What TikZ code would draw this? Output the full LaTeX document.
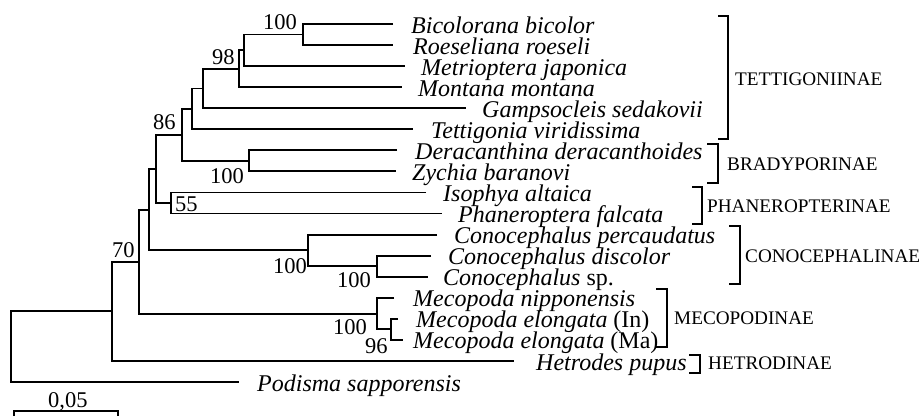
\documentclass[tikz,border=0pt]{standalone}
\usepackage{fontspec}
\setmainfont{Liberation Serif}
\begin{document}
\begin{tikzpicture}[x=1pt,y=-1pt,
  branch/.style={line width=1.9pt},
  brk/.style={line width=2pt},
  sp/.style={font=\fontsize{24}{28}\selectfont\itshape, anchor=base west, inner sep=0pt},
  boot/.style={font=\fontsize{22.5}{26}\selectfont, anchor=base west, inner sep=0pt},
  grp/.style={font=\fontsize{19.2}{22}\selectfont, anchor=base west, inner sep=0pt}]
\useasboundingbox (0,0) rectangle (922,416);
% leaf tips
\coordinate (L0) at (393,24);
\coordinate (L1) at (393,45.1);
\coordinate (L2) at (405,66.1);
\coordinate (L3) at (402,87.2);
\coordinate (L4) at (466,108.2);
\coordinate (L5) at (413,129.3);
\coordinate (L6) at (397,150.4);
\coordinate (L7) at (396,171.4);
\coordinate (L8) at (426,192.5);
\coordinate (L9) at (442,213.5);
\coordinate (L10) at (437,234.6);
\coordinate (L11) at (431,255.7);
\coordinate (L12) at (428,276.7);
\coordinate (L13) at (394,297.8);
\coordinate (L14) at (398,318.8);
\coordinate (L15) at (403,339.9);
\coordinate (L16) at (514,361);
\coordinate (L17) at (239,382);
% internal nodes
\coordinate (nA) at (303,34.5);
\coordinate (nB) at (244,50.3);
\coordinate (nC) at (239,68.8);
\coordinate (nD) at (203,88.5);
\coordinate (nE) at (192,108.9);
\coordinate (nBr) at (249,160.9);
\coordinate (nF) at (182,134.9);
\coordinate (nH) at (171,203);
\coordinate (nG) at (156,169);
\coordinate (nK) at (377,266.2);
\coordinate (nJ) at (308,250.4);
\coordinate (nI) at (149,209.7);
\coordinate (nN) at (391,329.4);
\coordinate (nM) at (377,313.6);
\coordinate (nL) at (139,261.6);
\coordinate (nO) at (112,311.3);
\coordinate (nR) at (11,346.7);
% branches
\begin{scope}[branch]
\draw (L0) -| (nA) |- (L1);
\draw (nA) -| (nB) |- (L2);
\draw (nB) -| (nC) |- (L3);
\draw (nC) -| (nD) |- (L4);
\draw (nD) -| (nE) |- (L5);
\draw (L6) -| (nBr) |- (L7);
\draw (nE) -| (nF) |- (nBr);
\draw (L8) -| (nH) |- (L9);
\draw (nF) -| (nG) |- (nH);
\draw (L11) -| (nK) |- (L12);
\draw (L10) -| (nJ) |- (nK);
\draw (nG) -| (nI) |- (nJ);
\draw (L14) -| (nN) |- (L15);
\draw (L13) -| (nM) |- (nN);
\draw (nI) -| (nL) |- (nM);
\draw (nL) -| (nO) |- (L16);
\draw (nO) -| (nR) |- (L17);
\end{scope}
% species names
\node[sp] (t0) at (411,33) {Bicolorana bicolor};
\node[sp] (t1) at (413,54.1) {Roeseliana roeseli};
\node[sp] (t2) at (421,75.1) {Metrioptera japonica};
\node[sp] (t3) at (418,96.2) {Montana montana};
\node[sp] (t4) at (482,117.2) {Gampsocleis sedakovii};
\node[sp] (t5) at (431,138.3) {Tettigonia viridissima};
\node[sp] (t6) at (415,159.4) {Deracanthina deracanthoides};
\node[sp] (t7) at (412,180.4) {Zychia baranovi};
\node[sp] (t8) at (443,201.5) {Isophya altaica};
\node[sp] (t9) at (458,222.5) {Phaneroptera falcata};
\node[sp] (t10) at (454,243.6) {Conocephalus percaudatus};
\node[sp] (t11) at (448,264.7) {Conocephalus discolor};
\node[sp] (t12) at (443,285.7) {Conocephalus \upshape sp.};
\node[sp] (t13) at (413,306.8) {Mecopoda nipponensis};
\node[sp] (t14) at (416,327.8) {Mecopoda elongata \upshape (In)};
\node[sp] (t15) at (413,348.9) {Mecopoda elongata \upshape (Ma)};
\node[sp] (t16) at (536,370) {Hetrodes pupus};
\node[sp] (t17) at (257,391) {Podisma sapporensis};
% bootstrap values
\node[boot] (bA) at (263,29) {100};
\node[boot] (bC) at (212,64) {98};
\node[boot] (bF) at (153,129) {86};
\node[boot] (bBr) at (210,183) {100};
\node[boot] (bH) at (175,211) {55};
\node[boot] (bO) at (112,257) {70};
\node[boot] (bJ) at (273,273) {100};
\node[boot] (bK) at (337,287) {100};
\node[boot] (bM) at (333,334) {100};
\node[boot] (bN) at (365,353) {96};
% subfamily brackets
\begin{scope}[brk]
\coordinate (gT1) at (718,16);  \coordinate (gT2) at (718,139);
\draw (gT1) -- ++(10,0) |- (gT2);
\coordinate (gB1) at (707,144); \coordinate (gB2) at (707,183);
\draw (gB1) -- ++(11,0) |- (gB2);
\coordinate (gP1) at (692,187); \coordinate (gP2) at (692,224);
\draw (gP1) -- ++(10,0) |- (gP2);
\coordinate (gC1) at (729,226); \coordinate (gC2) at (729,284);
\draw (gC1) -- ++(11,0) |- (gC2);
\coordinate (gM1) at (656,289); \coordinate (gM2) at (656,347);
\draw (gM1) -- ++(11,0) |- (gM2);
\coordinate (gH1) at (689,355); \coordinate (gH2) at (689,373);
\draw (gH1) -- ++(11,0) |- (gH2);
\end{scope}
\node[grp] (nmT) at (735,85) {TETTIGONIINAE};
\node[grp] (nmB) at (727,170) {BRADYPORINAE};
\node[grp] (nmP) at (707,212) {PHANEROPTERINAE};
\node[grp] (nmC) at (745,262) {CONOCEPHALINAE};
\node[grp] (nmM) at (674,324) {MECOPODINAE};
\node[grp] (nmH) at (708,369) {HETRODINAE};
% scale bar
\coordinate (s1) at (14,411);
\coordinate (s2) at (118,411);
\draw[branch] ([yshift=-5pt]s1) -- (s1) -- (s2) -- ([yshift=-5pt]s2);
\node[boot] (sl) at (48,407) {0,05};
\end{tikzpicture}
\end{document}
